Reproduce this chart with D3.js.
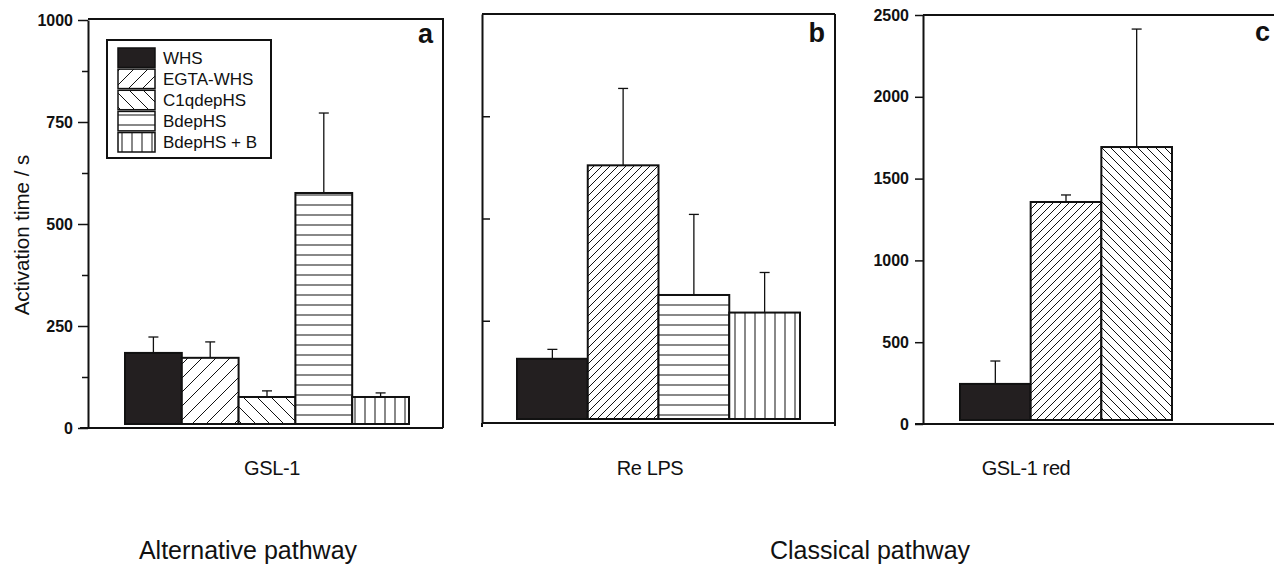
<!DOCTYPE html>
<html>
<head>
<meta charset="utf-8">
<script src="https://d3js.org/d3.v7.min.js"></script>
<style>
  body { margin: 0; background: #fff; }
  svg { display: block; font-family: "Liberation Sans", Arial, sans-serif; }
  .tick text { font-family: "Liberation Sans", Arial, sans-serif; font-weight: bold; font-size: 16px; fill: #111; }
  .axis path, .axis line { stroke: #111; }
</style>
</head>
<body>
<script>
// ---- data ----
var legendLabels = ["WHS", "EGTA-WHS", "C1qdepHS", "BdepHS", "BdepHS + B"];

var gslGroups = ["WHS", "EGTA-WHS", "C1qdepHS", "BdepHS", "BdepHS + B"];
var gslMeans  = [184, 172, 76, 576, 76];
var gslErr    = [39, 39, 15, 196, 10];

var lpsGroups = ["WHS", "EGTA-WHS", "BdepHS", "BdepHS + B"];
var lpsMeans  = [157, 630, 313, 270];
var lpsErr    = [23, 188, 197, 98];

var redGroups = ["WHS", "EGTA-WHS", "C1qdepHS"];
var redMeans  = [245, 1357, 1693];
var redErr    = [140, 43, 721];

var gslTicks  = [0, 250, 500, 750, 1000];
var gslMinor  = [125, 375, 625, 875];
var lpsTicks  = [250, 500, 750];
var redTicks  = [0, 500, 1000, 1500, 2000, 2500];

var sampleNames  = ["GSL-1", "Re LPS", "GSL-1 red"];
var pathwayNames = ["Alternative pathway", "Classical pathway"];
var panelLetters = ["a", "b", "c"];

// ---- layout ----
var width = 1274, height = 564;
var barGap = 4;

var svg = d3.select("body").append("svg")
    .attr("width", width)
    .attr("height", height);

var defs = svg.append("defs");

// hatch patterns
var makeDiag = function(id, size, back) {
    var p = defs.append("pattern")
        .attr("id", id)
        .attr("patternUnits", "userSpaceOnUse")
        .attr("width", size).attr("height", size);
    p.append("rect").attr("width", size).attr("height", size).attr("fill", "#fff");
    var d = back
        ? "M0,0 L" + size + "," + size + " M" + (-size) + ",0 L" + size + "," + (2 * size) + " M0," + (-size) + " L" + (2 * size) + "," + size
        : "M0," + size + " L" + size + ",0 M" + (-size) + "," + size + " L" + size + "," + (-size) + " M0," + (2 * size) + " L" + (2 * size) + ",0";
    p.append("path").attr("d", d).attr("stroke", "#111").attr("stroke-width", 1).attr("fill", "none");
};
var makeLines = function(id, size, vertical) {
    var p = defs.append("pattern")
        .attr("id", id)
        .attr("patternUnits", "userSpaceOnUse")
        .attr("width", size).attr("height", size);
    p.append("rect").attr("width", size).attr("height", size).attr("fill", "#fff");
    p.append("path")
        .attr("d", vertical ? "M" + (size / 2) + ",0 V" + size : "M0," + (size / 2) + " H" + size)
        .attr("stroke", "#111").attr("stroke-width", 1);
};
makeDiag("fwdWide", 14, false);
makeDiag("backWide", 14, true);
makeDiag("fwdTight", 8, false);
makeDiag("backTight", 9, true);
makeLines("horiz", 10, false);
makeLines("vert", 10, true);

var fillsWide  = {"WHS": "#231f20", "EGTA-WHS": "url(#fwdWide)", "C1qdepHS": "url(#backWide)", "BdepHS": "url(#horiz)", "BdepHS + B": "url(#vert)"};
var fillsTight = {"WHS": "#231f20", "EGTA-WHS": "url(#fwdTight)", "C1qdepHS": "url(#backTight)", "BdepHS": "url(#horiz)", "BdepHS + B": "url(#vert)"};

var drawBars = function(g, groups, means, errs, x, y, fills) {
    var rows = groups.map(function(k, i) { return {key: k, mean: means[i], err: errs[i]}; });

    var eb = g.append("g").attr("class", "errors");
    eb.selectAll("line.stem")
        .data(rows).enter().append("line")
        .attr("class", "stem")
        .attr("x1", function(d) { return x(d.key) + x.bandwidth() / 2; })
        .attr("x2", function(d) { return x(d.key) + x.bandwidth() / 2; })
        .attr("y1", function(d) { return y(d.mean); })
        .attr("y2", function(d) { return y(d.mean + d.err); })
        .attr("stroke", "#111").attr("stroke-width", 1.3);
    eb.selectAll("line.cap")
        .data(rows).enter().append("line")
        .attr("class", "cap")
        .attr("x1", function(d) { return x(d.key) + x.bandwidth() / 2 - 5; })
        .attr("x2", function(d) { return x(d.key) + x.bandwidth() / 2 + 5; })
        .attr("y1", function(d) { return y(d.mean + d.err); })
        .attr("y2", function(d) { return y(d.mean + d.err); })
        .attr("stroke", "#111").attr("stroke-width", 1.3);

    g.append("g").selectAll("rect")
        .data(rows).enter().append("rect")
        .attr("x", function(d) { return x(d.key); })
        .attr("width", x.bandwidth())
        .attr("y", function(d) { return y(d.mean); })
        .attr("height", function(d) { return y(0) - y(d.mean) - barGap; })
        .attr("fill", function(d) { return fills[d.key]; })
        .attr("stroke", "#111")
        .attr("stroke-width", 2);
};

var line = function(x1, y1, x2, y2, w) {
    svg.append("line")
        .attr("x1", x1).attr("y1", y1).attr("x2", x2).attr("y2", y2)
        .attr("stroke", "#111").attr("stroke-width", w || 2);
};

// ---- panel a : GSL-1 ----
var yA = d3.scaleLinear().domain([0, 1000]).range([428, 20]);
var xA = d3.scaleBand().domain(gslGroups).range([125, 409]);

svg.append("g").attr("class", "axis")
    .attr("transform", "translate(88,0)")
    .call(d3.axisLeft(yA).tickValues(gslTicks).tickSize(10).tickSizeOuter(0).tickPadding(5).tickFormat(d3.format("d")))
    .call(function(g) { g.select(".domain").attr("stroke-width", 2); g.selectAll(".tick line").attr("stroke-width", 1.5); });
svg.append("g").attr("class", "axis")
    .attr("transform", "translate(88,0)")
    .call(d3.axisLeft(yA).tickValues(gslMinor).tickSize(6).tickFormat(""))
    .call(function(g) { g.select(".domain").remove(); g.selectAll(".tick line").attr("stroke-width", 1.5); });

line(80, yA(0), 443, yA(0));
line(88, yA(1000) - 1, 443, yA(1000) - 1);
line(443, yA(1000) - 2, 443, yA(0));

drawBars(svg.append("g"), gslGroups, gslMeans, gslErr, xA, yA, fillsWide);

// legend
var leg = svg.append("g").attr("transform", "translate(107,40)");
leg.append("rect").attr("width", 164).attr("height", 118)
    .attr("fill", "#fff").attr("stroke", "#111").attr("stroke-width", 2);
var legRow = d3.scaleBand().domain(legendLabels).range([8, 112]).paddingInner(0.08);
leg.selectAll("rect.sw")
    .data(legendLabels).enter().append("rect")
    .attr("class", "sw")
    .attr("x", 11).attr("width", 37)
    .attr("y", function(d) { return legRow(d); })
    .attr("height", legRow.bandwidth())
    .attr("fill", function(d) { return fillsWide[d]; })
    .attr("stroke", "#111").attr("stroke-width", 1.5);
leg.selectAll("text")
    .data(legendLabels).enter().append("text")
    .attr("x", 56)
    .attr("y", function(d) { return legRow(d) + legRow.bandwidth() / 2; })
    .attr("dy", "0.36em")
    .attr("font-size", 17)
    .attr("fill", "#111")
    .text(function(d) { return d; });

// y title
svg.append("text")
    .attr("transform", "translate(29,235) rotate(-90)")
    .attr("text-anchor", "middle")
    .attr("font-size", 20.5)
    .attr("fill", "#111")
    .text("Activation time / s");

// ---- panel b : Re LPS ----
var yB = d3.scaleLinear().domain([0, 1000]).range([423, 14]);
var xB = d3.scaleBand().domain(lpsGroups).range([517, 800]);

svg.append("g").attr("class", "axis")
    .attr("transform", "translate(482,0)")
    .call(d3.axisRight(yB).tickValues(lpsTicks).tickSize(8).tickSizeOuter(0).tickFormat(""))
    .call(function(g) { g.select(".domain").attr("stroke-width", 2); g.selectAll(".tick line").attr("stroke-width", 1.5); });
line(482, yB(0), 835, yB(0));
line(482, yB(1000), 835, yB(1000));
line(835, yB(1000), 835, yB(0) + 3);
line(482, yB(0), 482, yB(0) + 4);

drawBars(svg.append("g"), lpsGroups, lpsMeans, lpsErr, xB, yB, fillsTight);

// ---- panel c : GSL-1 red ----
var yC = d3.scaleLinear().domain([0, 2500]).range([424, 15]);
var xC = d3.scaleBand().domain(redGroups).range([960, 1172]);

svg.append("g").attr("class", "axis")
    .attr("transform", "translate(923,0)")
    .call(d3.axisLeft(yC).tickValues(redTicks).tickSize(8).tickSizeOuter(0).tickPadding(6).tickFormat(d3.format("d")))
    .call(function(g) { g.select(".domain").attr("stroke-width", 2); g.selectAll(".tick line").attr("stroke-width", 1.5); });
line(915, yC(0), width, yC(0));
line(923, yC(2500), width, yC(2500));

drawBars(svg.append("g"), redGroups, redMeans, redErr, xC, yC, fillsTight);

// ---- panel letters ----
var letterX = [433, 825, 1270];
var letterY = [43, 42, 41];
svg.selectAll("text.letter")
    .data(panelLetters).enter().append("text")
    .attr("class", "letter")
    .attr("x", function(d, i) { return letterX[i]; })
    .attr("y", function(d, i) { return letterY[i]; })
    .attr("text-anchor", "end")
    .attr("font-size", 27)
    .attr("font-weight", "bold")
    .attr("fill", "#111")
    .text(function(d) { return d; });

// ---- sample + pathway labels ----
var sampleX = [272, 650, 1026];
svg.selectAll("text.sample")
    .data(sampleNames).enter().append("text")
    .attr("class", "sample")
    .attr("x", function(d, i) { return sampleX[i]; })
    .attr("y", 475)
    .attr("text-anchor", "middle")
    .attr("font-size", 20)
    .attr("letter-spacing", -0.4)
    .attr("fill", "#111")
    .text(function(d) { return d; });

var pathwayX = [248, 870];
svg.selectAll("text.pathway")
    .data(pathwayNames).enter().append("text")
    .attr("class", "pathway")
    .attr("x", function(d, i) { return pathwayX[i]; })
    .attr("y", 559)
    .attr("text-anchor", "middle")
    .attr("font-size", 25)
    .attr("fill", "#111")
    .text(function(d) { return d; });
</script>
</body>
</html>
